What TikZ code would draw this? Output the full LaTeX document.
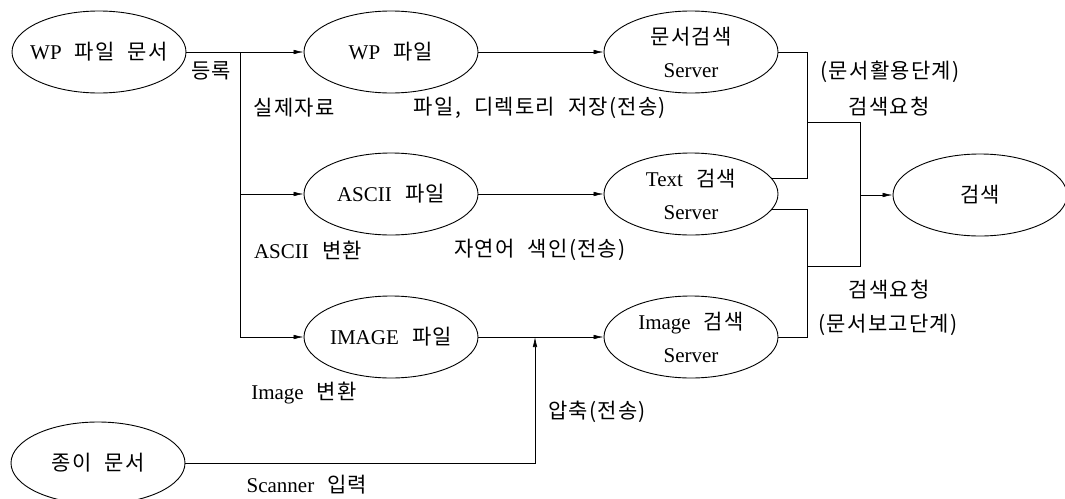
\documentclass[tikz,border=0pt]{standalone}
\usepackage{fontspec}
\setmainfont{Liberation Serif}
\newfontfamily\kr[LetterSpace=6,WordSpace=2.2]{Noto Sans CJK KR}
\usetikzlibrary{arrows.meta,shapes.geometric}
\newcommand{\hg}[1]{{\kr #1}}

\begin{document}
\begin{tikzpicture}[x=1pt,y=-1pt,
  font=\fontsize{21}{33}\selectfont,
  >={Latex[length=10pt,width=4.5pt]},
  e/.style={ellipse,draw,line width=0.9pt,minimum width=174pt,
    minimum height=82pt,inner sep=-12pt,align=center},
  c/.style={line width=0.6pt},
  t/.style={inner sep=1pt}]

  \useasboundingbox (0,0) rectangle (1065,498);

  \def\xa{391}
  \def\xb{691}

  % Documents, files and servers
  \node[e] (wpdoc) at (99,52) {WP\hg{ 파일 문서}};
  \node[e] (wpfile) at (\xa,52) {WP\hg{ 파일}};
  \node[e] (docsrv) at (\xb,52) {\hg{문서검색}\\Server};
  \node[e] (ascii) at (\xa,194) {ASCII\hg{ 파일}};
  \node[e] (textsrv) at (\xb,194) {Text\hg{ 검색}\\Server};
  \node[e] (image) at (\xa,337) {IMAGE\hg{ 파일}};
  \node[e] (imgsrv) at (\xb,337) {Image\hg{ 검색}\\Server};
  \node[e] (paper) at (98,463) {\hg{종이 문서}};
  \node[e] (search) at (980,195) {\hg{검색}};

  \coordinate (br) at (240,52);
  \coordinate (merge) at (535,337);
  \coordinate (j1) at (807,122);
  \coordinate (j2) at (807,266);
  \coordinate (hub) at (860,195);

  % Registration and conversion
  \draw[c,->] (wpdoc.east) -- (wpfile.west);
  \draw[c,->] (br) |- (ascii.west);
  \draw[c,->] (br) |- (image.west);
  \foreach \a/\b in {wpfile/docsrv,ascii/textsrv,image/imgsrv}{
    \draw[c,->] (\a.east) -- (\b.west);
  }
  \draw[c,->] (paper.east) -| (merge);

  % Search requests
  \draw[c] (docsrv.east) -| (j1);
  \draw[c] (textsrv.11) -| (j1);
  \draw[c] (textsrv.-11) -| (j2);
  \draw[c] (imgsrv.east) -| (j2);
  \draw[c] (j1) -| (hub) |- (j2);
  \draw[c,->] (hub) -- (search.west);

  % Labels
  \node[t] (l1) at (211,71) {\hg{등록}};
  \node[t] (l2) at (294,108) {\hg{실제자료}};
  \node[t] (l3) at (540,108) {\hg{파일, 디렉토리 저장(전송)}};
  \node[t] (l4) at (308,250) {ASCII\hg{ 변환}};
  \node[t] (l5) at (540,250) {\hg{자연어 색인(전송)}};
  \node[t] (l6) at (304,393) {Image\hg{ 변환}};
  \node[t] (l7) at (597,412) {\hg{압축(전송)}};
  \node[t] (l8) at (307,485) {Scanner\hg{ 입력}};
  \node[t] (l9) at (890,72) {\hg{(문서활용단계)}};
  \node[t] (l10) at (889,107) {\hg{검색요청}};
  \node[t] (l11) at (889,290) {\hg{검색요청}};
  \node[t] (l12) at (888,325) {\hg{(문서보고단계)}};

\end{tikzpicture}
\end{document}
